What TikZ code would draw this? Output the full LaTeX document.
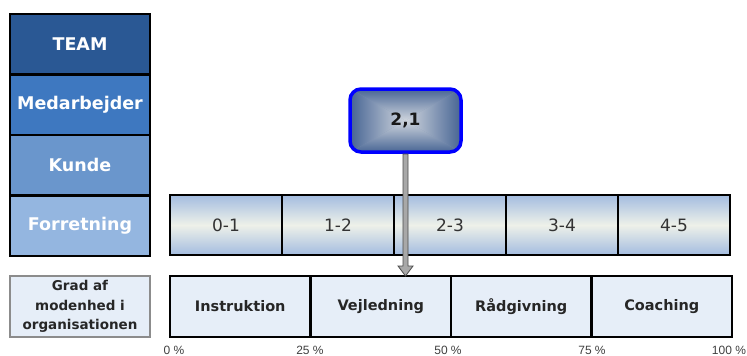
\documentclass[tikz,border=0pt]{standalone}
\usepackage{fontspec}
\setmainfont{DejaVu Sans}
\newfontfamily\pctfont{Liberation Sans}
\usetikzlibrary{calc}

\definecolor{teamblue}{RGB}{42,88,148}
\definecolor{medblue}{RGB}{62,120,192}
\definecolor{kundeblue}{RGB}{106,150,204}
\definecolor{forblue}{RGB}{148,182,224}
\definecolor{scaleedge}{RGB}{163,188,224}
\definecolor{scalemid}{RGB}{238,241,233}
\definecolor{phasefill}{RGB}{230,238,248}
\definecolor{knobdark}{RGB}{68,98,146}
\definecolor{knoblight}{RGB}{208,214,222}
\definecolor{knobline}{RGB}{0,0,255}
\definecolor{shaftgray}{RGB}{168,168,168}

\begin{document}
\begin{tikzpicture}[x=1pt,y=-1pt,
  level/.style={draw=black, line width=2.5pt, minimum width=140pt,
    minimum height=60.5pt, inner sep=0pt, outer sep=0pt, text=white,
    font=\fontsize{17.5}{20}\selectfont\bfseries},
  scalecell/.style={draw=black, line width=2.5pt, minimum width=112pt,
    minimum height=60pt, inner sep=0pt, outer sep=0pt,
    top color=scaleedge, bottom color=scaleedge, middle color=scalemid,
    text=black!80, font=\fontsize{17}{20}\selectfont},
  phase/.style={draw=black, line width=2.8pt, fill=phasefill,
    minimum width=140.5pt, minimum height=61pt, inner sep=0pt, outer sep=0pt,
    text=black!85, font=\fontsize{14.5}{17}\selectfont\bfseries},
  legendbox/.style={draw=black!45, line width=1.8pt, fill=phasefill,
    minimum width=140pt, minimum height=61pt, inner sep=0pt, outer sep=0pt,
    align=center, text=black!85,
    font=\fontsize{13.5}{19.5}\selectfont\bfseries},
  knob/.style={draw=knobline, line width=3.5pt, rounded corners=11pt,
    minimum width=111pt, minimum height=63pt, inner sep=0pt, outer sep=0pt,
    text=black!90, font=\fontsize{17}{20}\selectfont\bfseries},
  arrowbody/.style={fill=shaftgray, draw=black!70, line width=0.8pt,
    line join=miter},
  pct/.style={text=black!75, inner sep=0pt, font=\pctfont\fontsize{12}{13}\selectfont}
]
\useasboundingbox (0,0) rectangle (747,356);

% level stack on the left
\node[level, fill=teamblue]  (team)  at (80,44.25)  {TEAM};
\node[level, fill=medblue]   (med)   at (80,104.75) {Medarbejder};
\node[level, fill=kundeblue] (kunde) at (80,165.25) {Kunde};
\node[level, fill=forblue]   (forr)  at (80,225.75) {Forretning};

% score scale
\node[scalecell] (s01) at (226,225) {0-1};
\node[scalecell] (s12) at (338,225) {1-2};
\node[scalecell] (s23) at (450,225) {2-3};
\node[scalecell] (s34) at (562,225) {3-4};
\node[scalecell] (s45) at (674,225) {4-5};

% maturity phases
\node[legendbox] (grad) at (80,306.5) {Grad af\\modenhed i\\organisationen};
\node[phase] (instr) at (240.25,306.5) {Instruktion};
\node[phase] (vejl)  at (380.75,306.5) {Vejledning};
\node[phase] (radg)  at (521.25,306.5) {Rådgivning};
\node[phase] (coach) at (661.75,306.5) {Coaching};

% percentage ticks
\node[pct] (p0)   at (174,350) {0 \%};
\node[pct] (p25)  at (310,350) {25 \%};
\node[pct] (p50)  at (448,350) {50 \%};
\node[pct] (p75)  at (592,350) {75 \%};
\node[pct] (p100) at (729,350) {100 \%};

% score indicator: rectangular gradient from the rim to the centre
\begin{scope}
  \clip[rounded corners=11pt] (350,89) rectangle (461,152);
  \fill[knobdark!55!knoblight] (349,88) rectangle (462,153);
  \shade[top color=knobdark, bottom color=knoblight]
    (349,88) -- (462,88) -- (405.5,120.5) -- cycle;
  \shade[bottom color=knobdark, top color=knoblight]
    (349,153) -- (462,153) -- (405.5,120.5) -- cycle;
  \shade[left color=knobdark, right color=knoblight]
    (349,88) -- (349,153) -- (405.5,120.5) -- cycle;
  \shade[right color=knobdark, left color=knoblight]
    (462,88) -- (462,153) -- (405.5,120.5) -- cycle;
\end{scope}
\node[knob] (v) at (405.5,120.5) {2,1};

% pointer from the score down to the phase row
\coordinate (tip) at (v.south |- vejl.north);
\draw[arrowbody]
  ($(v.south)+(-2.5,2)$) -- ($(tip)+(-2.5,-10)$) -- ($(tip)+(-7.5,-10)$)
  -- (tip) -- ($(tip)+(7.5,-10)$) -- ($(tip)+(2.5,-10)$)
  -- ($(v.south)+(2.5,2)$) -- cycle;
\end{tikzpicture}
\end{document}
